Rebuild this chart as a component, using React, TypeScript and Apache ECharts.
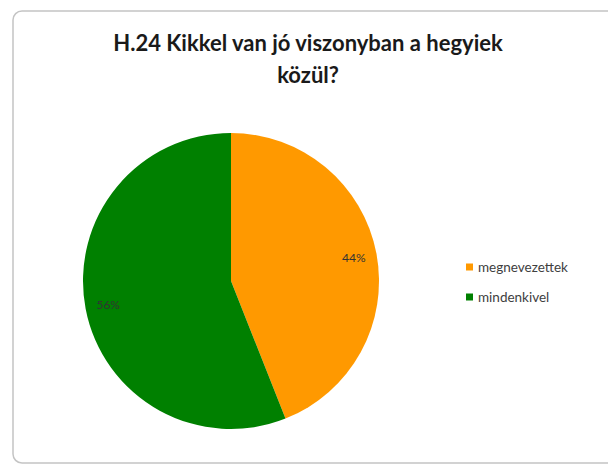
import React, { useEffect, useRef } from "react";
import * as echarts from "echarts";

const titleText = "H.24 Kikkel van jó viszonyban a hegyiek\nközül?";
const categories = ["megnevezettek", "mindenkivel"];
const values = [44, 56];
const colors = ["#FF9900", "#008000"];

export default function App() {
  const ref = useRef<HTMLDivElement>(null);
  useEffect(() => {
    document.body.style.margin = "0";
    if (!ref.current) return;
    const chart = echarts.init(ref.current, undefined, { renderer: "svg" });
    const data = categories.map((name, i) => ({
      name,
      value: values[i],
      itemStyle: { color: colors[i] },
    }));
    chart.setOption({
      animation: false,
      backgroundColor: "#ffffff",
      title: {
        text: titleText,
        left: 303,
        top: 21,
        textAlign: "center",
        textStyle: {
          fontFamily: "Lato",
          fontWeight: "bold",
          fontSize: 22,
          color: "#1a1a1a",
          lineHeight: 32,
        },
      },
      legend: {
        orient: "vertical",
        left: 461,
        top: 255,
        icon: "rect",
        itemWidth: 7,
        itemHeight: 7,
        itemGap: 16,
        data: categories,
        textStyle: { fontFamily: "Lato", fontSize: 13.5, color: "#404040" },
        selectedMode: false,
      },
      graphic: [
        {
          type: "rect",
          shape: { x: 13, y: 11, width: 640, height: 452, r: 9 },
          style: { fill: "none", stroke: "#c4c4c4", lineWidth: 1.5 },
          silent: true,
        },
      ],
      series: [
        {
          type: "pie",
          center: [231, 281],
          radius: [0, 148],
          startAngle: 90,
          data,
          label: { show: false },
          labelLine: { show: false },
          emphasis: { disabled: true },
        },
        {
          type: "pie",
          center: [231, 281],
          radius: [94, 150],
          startAngle: 90,
          silent: true,
          data: categories.map((name, i) => ({
            name,
            value: values[i],
            itemStyle: { color: "rgba(0,0,0,0)" },
          })),
          label: {
            show: true,
            position: "inside",
            formatter: "{c}%",
            fontFamily: "Lato",
            fontSize: 12,
            color: "#333333",
          },
          labelLine: { show: false },
          emphasis: { disabled: true },
        },
      ],
    });
    return () => chart.dispose();
  }, []);
  return <div ref={ref} style={{ width: 608, height: 466 }} />;
}
